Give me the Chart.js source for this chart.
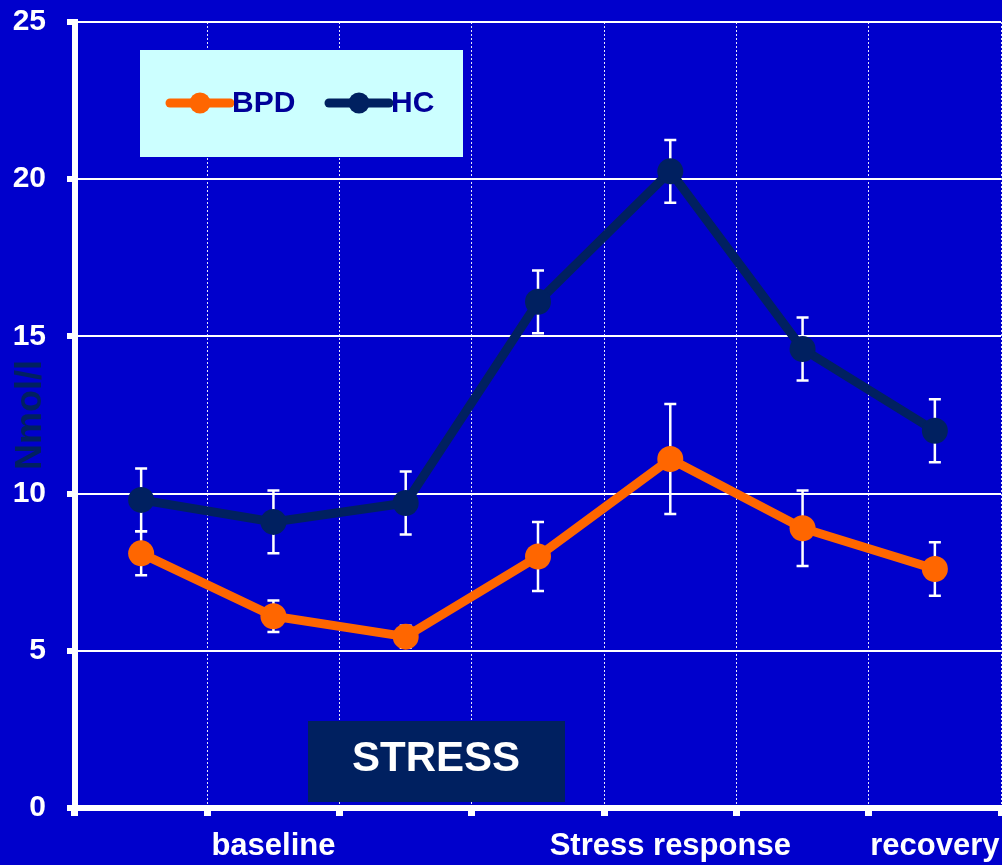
<!DOCTYPE html>
<html>
<head>
<meta charset="utf-8">
<title>Cortisol stress response</title>
<script src="https://cdn.jsdelivr.net/npm/chart.js@4.4.1/dist/chart.umd.min.js"></script>
<style>
    html, body { margin: 0; padding: 0; background: #0000CC; }
    #wrap { width: 1002px; height: 865px; }
    canvas { display: block; }
</style>
</head>
<body>
<div id="wrap"><canvas id="chart" width="1002" height="865"></canvas></div>
<script>
// Data
const categories = ['', 'baseline', '', '', 'Stress response', '', 'recovery'];
const seriesNames = ['BPD', 'HC'];
const bpdValues = [8.1, 6.1, 5.45, 8.0, 11.1, 8.9, 7.6];
const bpdErrors = [0.7, 0.5, 0.35, 1.1, 1.75, 1.2, 0.85];
const hcValues = [9.8, 9.1, 9.7, 16.1, 20.25, 14.6, 12.0];
const hcErrors = [1.0, 1.0, 1.0, 1.0, 1.0, 1.0, 1.0];
const yMin = 0;
const yMax = 25;
const yStep = 5;
const yTitle = 'Nmol/l';
const boxLabel = 'STRESS';

const ORANGE = '#FF6600';
const NAVY = '#002060';
const FONT = '"Liberation Sans", Arial, sans-serif';

const errorsBySet = [bpdErrors, hcErrors];

// error bars, drawn behind the lines and markers
const errorBars = {
    id: 'errorBars',
    beforeDatasetsDraw: function (chart) {
        const ctx = chart.ctx;
        const y = chart.scales.y;
        ctx.save();
        ctx.strokeStyle = '#ffffff';
        ctx.lineWidth = 2.5;
        chart.data.datasets.forEach(function (ds, i) {
            const meta = chart.getDatasetMeta(i);
            meta.data.forEach(function (pt, j) {
                const v = ds.data[j];
                const e = errorsBySet[i][j];
                const top = y.getPixelForValue(v + e);
                const bot = y.getPixelForValue(v - e);
                ctx.beginPath();
                ctx.moveTo(pt.x, top);
                ctx.lineTo(pt.x, bot);
                ctx.moveTo(pt.x - 6, top);
                ctx.lineTo(pt.x + 6, top);
                ctx.moveTo(pt.x - 6, bot);
                ctx.lineTo(pt.x + 6, bot);
                ctx.stroke();
            });
        });
        ctx.restore();
    }
};

// legend box and STRESS label
const decorations = {
    id: 'decorations',
    beforeDatasetsDraw: function (chart) {
        const ctx = chart.ctx;
        ctx.save();
        ctx.fillStyle = NAVY;
        ctx.fillRect(308, 721, 257, 81);
        ctx.fillStyle = '#ffffff';
        ctx.font = 'bold 42px ' + FONT;
        ctx.textAlign = 'center';
        ctx.textBaseline = 'middle';
        ctx.fillText(boxLabel, 436, 759);
        ctx.restore();
    },
    afterDraw: function (chart) {
        const ctx = chart.ctx;
        ctx.save();
        ctx.fillStyle = '#CCFFFF';
        ctx.fillRect(140, 50, 323, 107);
        const starts = [170, 329];
        chart.data.datasets.forEach(function (ds, i) {
            const x0 = starts[i];
            ctx.strokeStyle = ds.borderColor;
            ctx.lineWidth = 9;
            ctx.lineCap = 'round';
            ctx.beginPath();
            ctx.moveTo(x0, 103);
            ctx.lineTo(x0 + 60, 103);
            ctx.stroke();
            ctx.fillStyle = ds.borderColor;
            ctx.beginPath();
            ctx.arc(x0 + 30, 103, 10.5, 0, Math.PI * 2);
            ctx.fill();
            ctx.fillStyle = '#000099';
            ctx.font = 'bold 30px ' + FONT;
            ctx.textAlign = 'left';
            ctx.textBaseline = 'middle';
            ctx.fillText(ds.label, x0 + 62, 104);
        });
        ctx.restore();
    }
};

new Chart(document.getElementById('chart').getContext('2d'), {
    type: 'line',
    data: {
        labels: categories,
        datasets: [{
            label: seriesNames[0],
            data: bpdValues,
            borderColor: ORANGE,
            backgroundColor: ORANGE,
            borderWidth: 9,
            pointRadius: 13,
            pointBorderWidth: 0,
            pointBackgroundColor: ORANGE,
            tension: 0,
            clip: false
        }, {
            label: seriesNames[1],
            data: hcValues,
            borderColor: NAVY,
            backgroundColor: NAVY,
            borderWidth: 9,
            pointRadius: 13,
            pointBorderWidth: 0,
            pointBackgroundColor: NAVY,
            tension: 0,
            clip: false
        }]
    },
    options: {
        responsive: false,
        devicePixelRatio: 1,
        animation: false,
        layout: { autoPadding: false, padding: { top: 22, right: 1, left: 0, bottom: 0 } },
        plugins: {
            legend: { display: false },
            tooltip: { enabled: false }
        },
        scales: {
            x: {
                offset: true,
                grid: {
                    offset: true,
                    color: 'rgba(255,255,255,0.9)',
                    lineWidth: 1,
                    tickColor: '#ffffff',
                    tickWidth: 7,
                    tickLength: 8
                },
                border: { display: true, color: '#ffffff', width: 6, dash: [2, 2] },
                ticks: {
                    color: '#ffffff',
                    autoSkip: false,
                    maxRotation: 0,
                    padding: 0,
                    font: { family: FONT, size: 31, weight: 'bold', lineHeight: 1.97 }
                },
                afterFit: function (scale) {
                    scale.height = 57;
                    scale.paddingLeft = 0;
                    scale.paddingRight = 0;
                }
            },
            y: {
                min: yMin,
                max: yMax,
                grid: {
                    color: '#ffffff',
                    lineWidth: 2,
                    tickColor: '#ffffff',
                    tickWidth: 6,
                    tickLength: 8
                },
                border: { display: true, color: '#ffffff', width: 6 },
                ticks: {
                    stepSize: yStep,
                    color: '#ffffff',
                    padding: 21,
                    font: { family: FONT, size: 30, weight: 'bold' }
                },
                title: {
                    display: true,
                    text: yTitle,
                    color: NAVY,
                    padding: { top: 9, bottom: 0 },
                    font: { family: FONT, size: 36, weight: 'bold' }
                },
                afterFit: function (scale) {
                    scale.width = 75;
                    scale.paddingTop = 0;
                    scale.paddingBottom = 0;
                }
            }
        }
    },
    plugins: [errorBars, decorations]
});
</script>
</body>
</html>
